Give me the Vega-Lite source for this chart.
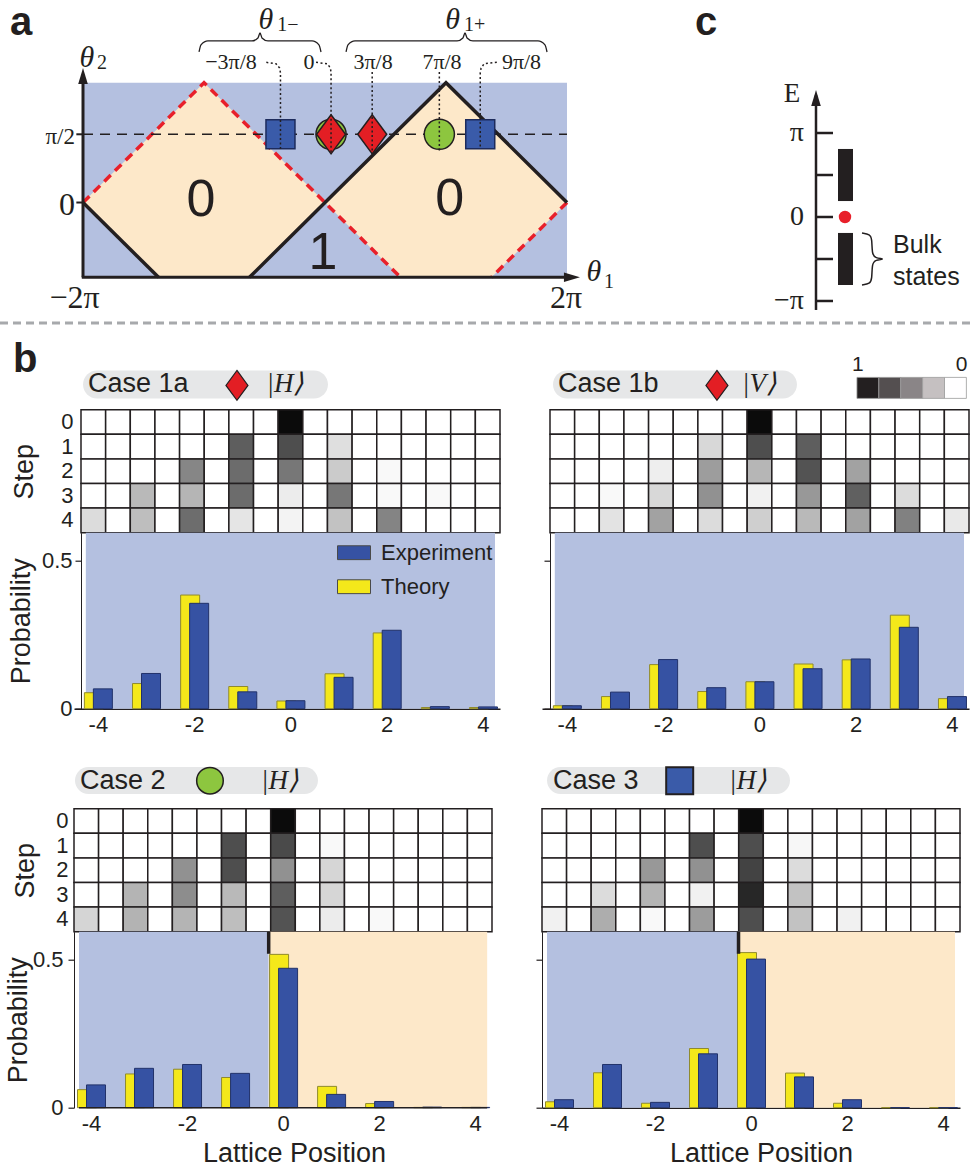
{
"$schema": "https://vega.github.io/schema/vega-lite/v6.json",
"autosize": {"type": "none"},
"padding": {"left": 74, "top": 82.7, "right": 897, "bottom": 1091.3},
"background": "#ffffff",
"config": {"view": {"stroke": null}, "font": "Liberation Sans", "text": {"color": "#231f20"}},
"datasets": {
"h1a": [
{"s":0,"x":-4,"v":0},{"s":0,"x":-3.5,"v":0},{"s":0,"x":-3,"v":0},{"s":0,"x":-2.5,"v":0},{"s":0,"x":-2,"v":0},{"s":0,"x":-1.5,"v":0},{"s":0,"x":-1,"v":0},{"s":0,"x":-0.5,"v":0},{"s":0,"x":0,"v":0.97},{"s":0,"x":0.5,"v":0},{"s":0,"x":1,"v":0},{"s":0,"x":1.5,"v":0},{"s":0,"x":2,"v":0},{"s":0,"x":2.5,"v":0},{"s":0,"x":3,"v":0},{"s":0,"x":3.5,"v":0},{"s":0,"x":4,"v":0},
{"s":1,"x":-4,"v":0},{"s":1,"x":-3.5,"v":0},{"s":1,"x":-3,"v":0},{"s":1,"x":-2.5,"v":0},{"s":1,"x":-2,"v":0},{"s":1,"x":-1.5,"v":0},{"s":1,"x":-1,"v":0.6},{"s":1,"x":-0.5,"v":0},{"s":1,"x":0,"v":0.667},{"s":1,"x":0.5,"v":0},{"s":1,"x":1,"v":0.11},{"s":1,"x":1.5,"v":0},{"s":1,"x":2,"v":0},{"s":1,"x":2.5,"v":0},{"s":1,"x":3,"v":0},{"s":1,"x":3.5,"v":0},{"s":1,"x":4,"v":0},
{"s":2,"x":-4,"v":0},{"s":2,"x":-3.5,"v":0},{"s":2,"x":-3,"v":0},{"s":2,"x":-2.5,"v":0},{"s":2,"x":-2,"v":0.44},{"s":2,"x":-1.5,"v":0},{"s":2,"x":-1,"v":0.545},{"s":2,"x":-0.5,"v":0},{"s":2,"x":0,"v":0.5},{"s":2,"x":0.5,"v":0},{"s":2,"x":1,"v":0.184},{"s":2,"x":1.5,"v":0},{"s":2,"x":2,"v":0.02},{"s":2,"x":2.5,"v":0},{"s":2,"x":3,"v":0},{"s":2,"x":3.5,"v":0},{"s":2,"x":4,"v":0},
{"s":3,"x":-4,"v":0},{"s":3,"x":-3.5,"v":0},{"s":3,"x":-3,"v":0.247},{"s":3,"x":-2.5,"v":0},{"s":3,"x":-2,"v":0.263},{"s":3,"x":-1.5,"v":0},{"s":3,"x":-1,"v":0.545},{"s":3,"x":-0.5,"v":0},{"s":3,"x":0,"v":0.067},{"s":3,"x":0.5,"v":0},{"s":3,"x":1,"v":0.5},{"s":3,"x":1.5,"v":0},{"s":3,"x":2,"v":0.02},{"s":3,"x":2.5,"v":0},{"s":3,"x":3,"v":0.02},{"s":3,"x":3.5,"v":0},{"s":3,"x":4,"v":0},
{"s":4,"x":-4,"v":0.122},{"s":4,"x":-3.5,"v":0},{"s":4,"x":-3,"v":0.231},{"s":4,"x":-2.5,"v":0},{"s":4,"x":-2,"v":0.54},{"s":4,"x":-1.5,"v":0},{"s":4,"x":-1,"v":0.09},{"s":4,"x":-0.5,"v":0},{"s":4,"x":0,"v":0.043},{"s":4,"x":0.5,"v":0},{"s":4,"x":1,"v":0.216},{"s":4,"x":1.5,"v":0},{"s":4,"x":2,"v":0.45},{"s":4,"x":2.5,"v":0},{"s":4,"x":3,"v":0},{"s":4,"x":3.5,"v":0},{"s":4,"x":4,"v":0}
],
"h1b": [
{"s":0,"x":-4,"v":0},{"s":0,"x":-3.5,"v":0},{"s":0,"x":-3,"v":0},{"s":0,"x":-2.5,"v":0},{"s":0,"x":-2,"v":0},{"s":0,"x":-1.5,"v":0},{"s":0,"x":-1,"v":0},{"s":0,"x":-0.5,"v":0},{"s":0,"x":0,"v":0.97},{"s":0,"x":0.5,"v":0},{"s":0,"x":1,"v":0},{"s":0,"x":1.5,"v":0},{"s":0,"x":2,"v":0},{"s":0,"x":2.5,"v":0},{"s":0,"x":3,"v":0},{"s":0,"x":3.5,"v":0},{"s":0,"x":4,"v":0},
{"s":1,"x":-4,"v":0},{"s":1,"x":-3.5,"v":0},{"s":1,"x":-3,"v":0},{"s":1,"x":-2.5,"v":0},{"s":1,"x":-2,"v":0},{"s":1,"x":-1.5,"v":0},{"s":1,"x":-1,"v":0.137},{"s":1,"x":-0.5,"v":0},{"s":1,"x":0,"v":0.667},{"s":1,"x":0.5,"v":0},{"s":1,"x":1,"v":0.6},{"s":1,"x":1.5,"v":0},{"s":1,"x":2,"v":0},{"s":1,"x":2.5,"v":0},{"s":1,"x":3,"v":0},{"s":1,"x":3.5,"v":0},{"s":1,"x":4,"v":0},
{"s":2,"x":-4,"v":0},{"s":2,"x":-3.5,"v":0},{"s":2,"x":-3,"v":0},{"s":2,"x":-2.5,"v":0},{"s":2,"x":-2,"v":0.059},{"s":2,"x":-1.5,"v":0},{"s":2,"x":-1,"v":0.353},{"s":2,"x":-0.5,"v":0},{"s":2,"x":0,"v":0.259},{"s":2,"x":0.5,"v":0},{"s":2,"x":1,"v":0.647},{"s":2,"x":1.5,"v":0},{"s":2,"x":2,"v":0.333},{"s":2,"x":2.5,"v":0},{"s":2,"x":3,"v":0},{"s":2,"x":3.5,"v":0},{"s":2,"x":4,"v":0},
{"s":3,"x":-4,"v":0},{"s":3,"x":-3.5,"v":0},{"s":3,"x":-3,"v":0.02},{"s":3,"x":-2.5,"v":0},{"s":3,"x":-2,"v":0.137},{"s":3,"x":-1.5,"v":0},{"s":3,"x":-1,"v":0.4},{"s":3,"x":-0.5,"v":0},{"s":3,"x":0,"v":0.05},{"s":3,"x":0.5,"v":0},{"s":3,"x":1,"v":0.373},{"s":3,"x":1.5,"v":0},{"s":3,"x":2,"v":0.592},{"s":3,"x":2.5,"v":0},{"s":3,"x":3,"v":0.122},{"s":3,"x":3.5,"v":0},{"s":3,"x":4,"v":0},
{"s":4,"x":-4,"v":0},{"s":4,"x":-3.5,"v":0},{"s":4,"x":-3,"v":0.098},{"s":4,"x":-2.5,"v":0},{"s":4,"x":-2,"v":0.333},{"s":4,"x":-1.5,"v":0},{"s":4,"x":-1,"v":0.122},{"s":4,"x":-0.5,"v":0},{"s":4,"x":0,"v":0.169},{"s":4,"x":0.5,"v":0},{"s":4,"x":1,"v":0.247},{"s":4,"x":1.5,"v":0},{"s":4,"x":2,"v":0.333},{"s":4,"x":2.5,"v":0},{"s":4,"x":3,"v":0.459},{"s":4,"x":3.5,"v":0},{"s":4,"x":4,"v":0.075}
],
"h2": [
{"s":0,"x":-4,"v":0},{"s":0,"x":-3.5,"v":0},{"s":0,"x":-3,"v":0},{"s":0,"x":-2.5,"v":0},{"s":0,"x":-2,"v":0},{"s":0,"x":-1.5,"v":0},{"s":0,"x":-1,"v":0},{"s":0,"x":-0.5,"v":0},{"s":0,"x":0,"v":0.97},{"s":0,"x":0.5,"v":0},{"s":0,"x":1,"v":0},{"s":0,"x":1.5,"v":0},{"s":0,"x":2,"v":0},{"s":0,"x":2.5,"v":0},{"s":0,"x":3,"v":0},{"s":0,"x":3.5,"v":0},{"s":0,"x":4,"v":0},
{"s":1,"x":-4,"v":0},{"s":1,"x":-3.5,"v":0},{"s":1,"x":-3,"v":0},{"s":1,"x":-2.5,"v":0},{"s":1,"x":-2,"v":0},{"s":1,"x":-1.5,"v":0},{"s":1,"x":-1,"v":0.667},{"s":1,"x":-0.5,"v":0},{"s":1,"x":0,"v":0.686},{"s":1,"x":0.5,"v":0},{"s":1,"x":1,"v":0.02},{"s":1,"x":1.5,"v":0},{"s":1,"x":2,"v":0},{"s":1,"x":2.5,"v":0},{"s":1,"x":3,"v":0},{"s":1,"x":3.5,"v":0},{"s":1,"x":4,"v":0},
{"s":2,"x":-4,"v":0},{"s":2,"x":-3.5,"v":0},{"s":2,"x":-3,"v":0},{"s":2,"x":-2.5,"v":0},{"s":2,"x":-2,"v":0.4},{"s":2,"x":-1.5,"v":0},{"s":2,"x":-1,"v":0.667},{"s":2,"x":-0.5,"v":0},{"s":2,"x":0,"v":0.4},{"s":2,"x":0.5,"v":0},{"s":2,"x":1,"v":0.145},{"s":2,"x":1.5,"v":0},{"s":2,"x":2,"v":0},{"s":2,"x":2.5,"v":0},{"s":2,"x":3,"v":0},{"s":2,"x":3.5,"v":0},{"s":2,"x":4,"v":0},
{"s":3,"x":-4,"v":0},{"s":3,"x":-3.5,"v":0},{"s":3,"x":-3,"v":0.267},{"s":3,"x":-2.5,"v":0},{"s":3,"x":-2,"v":0.412},{"s":3,"x":-1.5,"v":0},{"s":3,"x":-1,"v":0.247},{"s":3,"x":-0.5,"v":0},{"s":3,"x":0,"v":0.6},{"s":3,"x":0.5,"v":0},{"s":3,"x":1,"v":0.145},{"s":3,"x":1.5,"v":0},{"s":3,"x":2,"v":0},{"s":3,"x":2.5,"v":0},{"s":3,"x":3,"v":0},{"s":3,"x":3.5,"v":0},{"s":3,"x":4,"v":0},
{"s":4,"x":-4,"v":0.149},{"s":4,"x":-3.5,"v":0},{"s":4,"x":-3,"v":0.271},{"s":4,"x":-2.5,"v":0},{"s":4,"x":-2,"v":0.267},{"s":4,"x":-1.5,"v":0},{"s":4,"x":-1,"v":0.231},{"s":4,"x":-0.5,"v":0},{"s":4,"x":0,"v":0.647},{"s":4,"x":0.5,"v":0},{"s":4,"x":1,"v":0.067},{"s":4,"x":1.5,"v":0},{"s":4,"x":2,"v":0.02},{"s":4,"x":2.5,"v":0},{"s":4,"x":3,"v":0},{"s":4,"x":3.5,"v":0},{"s":4,"x":4,"v":0}
],
"h3": [
{"s":0,"x":-4,"v":0},{"s":0,"x":-3.5,"v":0},{"s":0,"x":-3,"v":0},{"s":0,"x":-2.5,"v":0},{"s":0,"x":-2,"v":0},{"s":0,"x":-1.5,"v":0},{"s":0,"x":-1,"v":0},{"s":0,"x":-0.5,"v":0},{"s":0,"x":0,"v":0.97},{"s":0,"x":0.5,"v":0},{"s":0,"x":1,"v":0},{"s":0,"x":1.5,"v":0},{"s":0,"x":2,"v":0},{"s":0,"x":2.5,"v":0},{"s":0,"x":3,"v":0},{"s":0,"x":3.5,"v":0},{"s":0,"x":4,"v":0},
{"s":1,"x":-4,"v":0},{"s":1,"x":-3.5,"v":0},{"s":1,"x":-3,"v":0},{"s":1,"x":-2.5,"v":0},{"s":1,"x":-2,"v":0},{"s":1,"x":-1.5,"v":0},{"s":1,"x":-1,"v":0.667},{"s":1,"x":-0.5,"v":0},{"s":1,"x":0,"v":0.667},{"s":1,"x":0.5,"v":0},{"s":1,"x":1,"v":0.027},{"s":1,"x":1.5,"v":0},{"s":1,"x":2,"v":0},{"s":1,"x":2.5,"v":0},{"s":1,"x":3,"v":0},{"s":1,"x":3.5,"v":0},{"s":1,"x":4,"v":0},
{"s":2,"x":-4,"v":0},{"s":2,"x":-3.5,"v":0},{"s":2,"x":-3,"v":0},{"s":2,"x":-2.5,"v":0},{"s":2,"x":-2,"v":0.373},{"s":2,"x":-1.5,"v":0},{"s":2,"x":-1,"v":0.4},{"s":2,"x":-0.5,"v":0},{"s":2,"x":0,"v":0.718},{"s":2,"x":0.5,"v":0},{"s":2,"x":1,"v":0.122},{"s":2,"x":1.5,"v":0},{"s":2,"x":2,"v":0},{"s":2,"x":2.5,"v":0},{"s":2,"x":3,"v":0},{"s":2,"x":3.5,"v":0},{"s":2,"x":4,"v":0},
{"s":3,"x":-4,"v":0},{"s":3,"x":-3.5,"v":0},{"s":3,"x":-3,"v":0.122},{"s":3,"x":-2.5,"v":0},{"s":3,"x":-2,"v":0.267},{"s":3,"x":-1.5,"v":0},{"s":3,"x":-1,"v":0.05},{"s":3,"x":-0.5,"v":0},{"s":3,"x":0,"v":0.843},{"s":3,"x":0.5,"v":0},{"s":3,"x":1,"v":0.216},{"s":3,"x":1.5,"v":0},{"s":3,"x":2,"v":0},{"s":3,"x":2.5,"v":0},{"s":3,"x":3,"v":0},{"s":3,"x":3.5,"v":0},{"s":3,"x":4,"v":0},
{"s":4,"x":-4,"v":0.05},{"s":4,"x":-3.5,"v":0},{"s":4,"x":-3,"v":0.294},{"s":4,"x":-2.5,"v":0},{"s":4,"x":-2,"v":0.02},{"s":4,"x":-1.5,"v":0},{"s":4,"x":-1,"v":0.357},{"s":4,"x":-0.5,"v":0},{"s":4,"x":0,"v":0.667},{"s":4,"x":0.5,"v":0},{"s":4,"x":1,"v":0.216},{"s":4,"x":1.5,"v":0},{"s":4,"x":2,"v":0.05},{"s":4,"x":2.5,"v":0},{"s":4,"x":3,"v":0},{"s":4,"x":3.5,"v":0},{"s":4,"x":4,"v":0}
],
"b1a": [
{"x":-4,"series":"Theory","p":0.054},{"x":-4,"series":"Experiment","p":0.067},
{"x":-3,"series":"Theory","p":0.085},{"x":-3,"series":"Experiment","p":0.119},
{"x":-2,"series":"Theory","p":0.384},{"x":-2,"series":"Experiment","p":0.356},
{"x":-1,"series":"Theory","p":0.075},{"x":-1,"series":"Experiment","p":0.057},
{"x":0,"series":"Theory","p":0.026},{"x":0,"series":"Experiment","p":0.027},
{"x":1,"series":"Theory","p":0.118},{"x":1,"series":"Experiment","p":0.106},
{"x":2,"series":"Theory","p":0.256},{"x":2,"series":"Experiment","p":0.265},
{"x":3,"series":"Theory","p":0.004},{"x":3,"series":"Experiment","p":0.007},
{"x":4,"series":"Theory","p":0.004},{"x":4,"series":"Experiment","p":0.006}
],
"b1b": [
{"x":-4,"series":"Theory","p":0.010},{"x":-4,"series":"Experiment","p":0.010},
{"x":-3,"series":"Theory","p":0.041},{"x":-3,"series":"Experiment","p":0.056},
{"x":-2,"series":"Theory","p":0.149},{"x":-2,"series":"Experiment","p":0.166},
{"x":-1,"series":"Theory","p":0.058},{"x":-1,"series":"Experiment","p":0.071},
{"x":0,"series":"Theory","p":0.091},{"x":0,"series":"Experiment","p":0.091},
{"x":1,"series":"Theory","p":0.151},{"x":1,"series":"Experiment","p":0.135},
{"x":2,"series":"Theory","p":0.165},{"x":2,"series":"Experiment","p":0.168},
{"x":3,"series":"Theory","p":0.316},{"x":3,"series":"Experiment","p":0.275},
{"x":4,"series":"Theory","p":0.034},{"x":4,"series":"Experiment","p":0.041}
],
"b2": [
{"x":-4,"series":"Theory","p":0.061},{"x":-4,"series":"Experiment","p":0.077},
{"x":-3,"series":"Theory","p":0.114},{"x":-3,"series":"Experiment","p":0.133},
{"x":-2,"series":"Theory","p":0.130},{"x":-2,"series":"Experiment","p":0.146},
{"x":-1,"series":"Theory","p":0.102},{"x":-1,"series":"Experiment","p":0.116},
{"x":0,"series":"Theory","p":0.518},{"x":0,"series":"Experiment","p":0.471},
{"x":1,"series":"Theory","p":0.072},{"x":1,"series":"Experiment","p":0.045},
{"x":2,"series":"Theory","p":0.014},{"x":2,"series":"Experiment","p":0.021},
{"x":3,"series":"Theory","p":0.001},{"x":3,"series":"Experiment","p":0.002},
{"x":4,"series":"Theory","p":0.001},{"x":4,"series":"Experiment","p":0.001}
],
"b3": [
{"x":-4,"series":"Theory","p":0.020},{"x":-4,"series":"Experiment","p":0.027},
{"x":-3,"series":"Theory","p":0.118},{"x":-3,"series":"Experiment","p":0.146},
{"x":-2,"series":"Theory","p":0.015},{"x":-2,"series":"Experiment","p":0.018},
{"x":-1,"series":"Theory","p":0.200},{"x":-1,"series":"Experiment","p":0.182},
{"x":0,"series":"Theory","p":0.524},{"x":0,"series":"Experiment","p":0.502},
{"x":1,"series":"Theory","p":0.117},{"x":1,"series":"Experiment","p":0.104},
{"x":2,"series":"Theory","p":0.015},{"x":2,"series":"Experiment","p":0.027},
{"x":3,"series":"Theory","p":0},{"x":3,"series":"Experiment","p":0},
{"x":4,"series":"Theory","p":0},{"x":4,"series":"Experiment","p":0}
]
},
"columns": 2,
"align": "each",
"bounds": "flush",
"spacing": {"row": 0, "column": 42},
"concat": [
{
"width": 426, "height": 194.6,
"encoding": {
"x": {"field": "x", "type": "quantitative", "scale": {"domain": [-2.0744, 1.4463], "nice": false, "zero": false}, "axis": null},
"y": {"field": "y", "type": "quantitative", "scale": {"domain": [-0.548, 0.878], "nice": false, "zero": false}, "axis": null}
},
"layer": [
{"data": {"values": [{"x": -2, "x2": 2, "y": -0.548, "y2": 0.878}]}, "mark": {"type": "rect", "fill": "#b4c0e0"}, "encoding": {"x2": {"field": "x2"}, "y2": {"field": "y2"}}},
{"data": {"values": [
{"d":"L","x":-2,"y":0,"y2":0},{"d":"L","x":-1.376,"y":0.548,"y2":-0.548},{"d":"L","x":-1,"y":0.878,"y2":-0.548},{"d":"L","x":-0.624,"y":0.548,"y2":-0.548},{"d":"L","x":0,"y":0,"y2":0},
{"d":"R","x":0,"y":0,"y2":0},{"d":"R","x":0.624,"y":0.548,"y2":-0.548},{"d":"R","x":1,"y":0.878,"y2":-0.548},{"d":"R","x":1.376,"y":0.548,"y2":-0.548},{"d":"R","x":2,"y":0,"y2":0}]},
 "mark": {"type": "area", "fill": "#fde8c9", "opacity": 1},
 "encoding": {"y": {"field": "y", "type": "quantitative", "stack": null, "scale": {"domain": [-0.548, 0.878], "nice": false, "zero": false}, "axis": null}, "y2": {"field": "y2"}, "detail": {"field": "d", "type": "nominal"}}},
{"data": {"values": [{"g":"a","o":0,"x":-2,"y":0},{"g":"a","o":1,"x":-1,"y":0.878},{"g":"a","o":2,"x":0,"y":0},{"g":"a","o":3,"x":0.624,"y":-0.548},{"g":"b","o":0,"x":2,"y":0},{"g":"b","o":1,"x":1.376,"y":-0.548}]},
 "mark": {"type": "line", "color": "#e8202a", "strokeWidth": 3.5, "strokeDash": [9, 6]},
 "encoding": {"detail": {"field": "g", "type": "nominal"}, "order": {"field": "o", "type": "quantitative"}}},
{"data": {"values": [{"g":"a","o":0,"x":-2,"y":0},{"g":"a","o":1,"x":-1.376,"y":-0.548},{"g":"b","o":0,"x":-0.624,"y":-0.548},{"g":"b","o":1,"x":1,"y":0.878},{"g":"b","o":2,"x":2,"y":0}]},
 "mark": {"type": "line", "color": "#231f20", "strokeWidth": 3.5, "strokeJoin": "miter"},
 "encoding": {"detail": {"field": "g", "type": "nominal"}, "order": {"field": "o", "type": "quantitative"}}},
{"data": {"values": [{"x": -2, "x2": 2, "y": 0.5}]}, "mark": {"type": "rule", "color": "#231f20", "strokeWidth": 1.5, "strokeDash": [10, 7]}, "encoding": {"x2": {"field": "x2"}}},
{"data": {"values": [{"x": 0.05, "y": 0.5}, {"x": 0.945, "y": 0.5}]}, "mark": {"type": "point", "shape": "circle", "size": 908, "filled": true, "fill": "#8dc63f", "stroke": "#231f20", "strokeWidth": 1.5, "opacity": 1}},
{"data": {"values": [{"x": -0.368, "y": 0.5}, {"x": 1.283, "y": 0.5}]}, "mark": {"type": "point", "shape": "square", "size": 841, "filled": true, "fill": "#3a5ba9", "stroke": "#1d2b5c", "strokeWidth": 1.5, "opacity": 1}},
{"data": {"values": [{"x": 0.05, "y": 0.5}, {"x": 0.39, "y": 0.5}]}, "mark": {"type": "point", "shape": "M0,-1.35L1,0L0,1.35L-1,0Z", "size": 841, "filled": true, "fill": "#e31e24", "stroke": "#231f20", "strokeWidth": 1.5, "opacity": 1}},
{"data": {"values": [
{"g":1,"o":0,"x":-0.485,"y":1.027},{"g":1,"o":1,"x":-0.405,"y":1.017},{"g":1,"o":2,"x":-0.375,"y":0.985},{"g":1,"o":3,"x":-0.368,"y":0.95},{"g":1,"o":4,"x":-0.368,"y":0.394},
{"g":2,"o":0,"x":-0.074,"y":1.027},{"g":2,"o":1,"x":0.02,"y":1.017},{"g":2,"o":2,"x":0.045,"y":0.985},{"g":2,"o":3,"x":0.05,"y":0.95},{"g":2,"o":4,"x":0.05,"y":0.357},
{"g":3,"o":0,"x":0.39,"y":0.957},{"g":3,"o":1,"x":0.39,"y":0.357},
{"g":4,"o":0,"x":0.945,"y":0.957},{"g":4,"o":1,"x":0.945,"y":0.375},
{"g":5,"o":0,"x":1.42,"y":1.027},{"g":5,"o":1,"x":1.315,"y":1.017},{"g":5,"o":2,"x":1.29,"y":0.985},{"g":5,"o":3,"x":1.283,"y":0.95},{"g":5,"o":4,"x":1.283,"y":0.394}]},
 "mark": {"type": "line", "color": "#231f20", "strokeWidth": 1.5, "strokeDash": [2, 2.5]},
 "encoding": {"detail": {"field": "g", "type": "nominal"}, "order": {"field": "o", "type": "quantitative"}}},
{"data": {"values": [
{"g":"m","o":0,"x":-1.041,"y":1.103},{"g":"m","o":1,"x":-1.025,"y":1.155},{"g":"m","o":2,"x":-0.967,"y":1.184},{"g":"m","o":3,"x":-0.603,"y":1.184},{"g":"m","o":4,"x":-0.554,"y":1.206},{"g":"m","o":5,"x":-0.537,"y":1.243},{"g":"m","o":6,"x":-0.521,"y":1.206},{"g":"m","o":7,"x":-0.471,"y":1.184},{"g":"m","o":8,"x":-0.107,"y":1.184},{"g":"m","o":9,"x":-0.05,"y":1.155},{"g":"m","o":10,"x":-0.033,"y":1.103},
{"g":"p","o":0,"x":0.174,"y":1.103},{"g":"p","o":1,"x":0.19,"y":1.155},{"g":"p","o":2,"x":0.248,"y":1.184},{"g":"p","o":3,"x":1.091,"y":1.184},{"g":"p","o":4,"x":1.14,"y":1.206},{"g":"p","o":5,"x":1.157,"y":1.243},{"g":"p","o":6,"x":1.174,"y":1.206},{"g":"p","o":7,"x":1.223,"y":1.184},{"g":"p","o":8,"x":1.76,"y":1.184},{"g":"p","o":9,"x":1.818,"y":1.155},{"g":"p","o":10,"x":1.835,"y":1.103}]},
 "mark": {"type": "line", "color": "#231f20", "strokeWidth": 1.3, "interpolate": "monotone"},
 "encoding": {"detail": {"field": "g", "type": "nominal"}, "order": {"field": "o", "type": "quantitative"}}},
{"data": {"values": [{"x": -2, "x2": -2, "y": -0.548, "y2": 0.93}, {"x": -2.01, "x2": 2.04, "y": -0.548, "y2": -0.548}]}, "mark": {"type": "rule", "color": "#231f20", "strokeWidth": 3}, "encoding": {"x2": {"field": "x2"}, "y2": {"field": "y2"}}},
{"data": {"values": [{"x": -2.055, "x2": -2, "y": 0}, {"x": -2.055, "x2": -2, "y": 0.5}]}, "mark": {"type": "rule", "color": "#231f20", "strokeWidth": 2}, "encoding": {"x2": {"field": "x2"}}},
{"data": {"values": [{"x": -2, "y": 0.927}]}, "mark": {"type": "point", "shape": "M0,-1L0.6,1L-0.6,1Z", "size": 256, "filled": true, "color": "#231f20", "opacity": 1, "strokeWidth": 0}},
{"data": {"values": [{"x": 2.041, "y": -0.548}]}, "mark": {"type": "point", "shape": "M1,0L-1,0.6L-1,-0.6Z", "size": 256, "filled": true, "color": "#231f20", "opacity": 1, "strokeWidth": 0}},
{"data": {"values": [{"x": -1.025, "y": 0.018, "t": "0"}, {"x": 1.031, "y": 0.026, "t": "0"}, {"x": -0.017, "y": -0.37, "t": "1"}]}, "mark": {"type": "text", "fontSize": 52, "baseline": "middle", "align": "center"}, "encoding": {"text": {"field": "t"}}},
{"data": {"values": [{"x": -0.777, "y": 1.03, "t": "−3π/8"}, {"x": -0.132, "y": 1.03, "t": "0"}, {"x": 0.397, "y": 1.03, "t": "3π/8"}, {"x": 0.967, "y": 1.03, "t": "7π/8"}, {"x": 1.624, "y": 1.03, "t": "9π/8"}]}, "mark": {"type": "text", "font": "Liberation Serif", "fontSize": 22, "baseline": "middle", "align": "center"}, "encoding": {"text": {"field": "t"}}},
{"data": {"values": [{"x": -2.07, "y": -0.7, "t": "−2π"}, {"x": 1.992, "y": -0.7, "t": "2π"}]}, "mark": {"type": "text", "font": "Liberation Serif", "fontSize": 32, "baseline": "middle", "align": "center"}, "encoding": {"text": {"field": "t"}}},
{"data": {"values": [{"x": -2.066, "y": -0.015, "t": "0"}]}, "mark": {"type": "text", "font": "Liberation Serif", "fontSize": 32, "baseline": "middle", "align": "right"}, "encoding": {"text": {"field": "t"}}},
{"data": {"values": [{"x": -2.066, "y": 0.48, "t": "π/2"}]}, "mark": {"type": "text", "font": "Liberation Serif", "fontSize": 23, "baseline": "middle", "align": "right"}, "encoding": {"text": {"field": "t"}}},
{"data": {"values": [{"x": -1.967, "y": 1.059, "t": "θ"}, {"x": 2.223, "y": -0.51, "t": "θ"}, {"x": -0.488, "y": 1.338, "t": "θ"}, {"x": 1.054, "y": 1.338, "t": "θ"}]}, "mark": {"type": "text", "font": "Liberation Serif", "fontStyle": "italic", "fontSize": 30, "baseline": "middle", "align": "center"}, "encoding": {"text": {"field": "t"}}},
{"data": {"values": [{"x": -1.843, "y": 1.026, "t": "2"}, {"x": 2.347, "y": -0.583, "t": "1"}, {"x": -0.306, "y": 1.301, "t": "1−"}, {"x": 1.236, "y": 1.301, "t": "1+"}]}, "mark": {"type": "text", "font": "Liberation Serif", "fontSize": 20, "baseline": "middle", "align": "center"}, "encoding": {"text": {"field": "t"}}},
{"data": {"values": [{"x": -2.603, "y": 1.228, "t": "a"}]}, "mark": {"type": "text", "fontSize": 40, "fontWeight": "bold", "baseline": "alphabetic", "align": "left"}, "encoding": {"text": {"field": "t"}}},
{"data": {"values": [{"x": -2.686, "x2": 5.339, "y": -0.883}]}, "mark": {"type": "rule", "color": "#a7a9ac", "strokeWidth": 3, "strokeDash": [8, 5]}, "encoding": {"x2": {"field": "x2"}}}
]
},
{
"width": 429, "height": 194.6,
"encoding": {
"x": {"field": "x", "type": "quantitative", "scale": {"domain": [0, 42.9], "nice": false, "zero": false}, "axis": null},
"y": {"field": "y", "type": "quantitative", "scale": {"domain": [-0.718, 1.599], "nice": false, "zero": false}, "axis": null}
},
"layer": [
{"data": {"values": [{"x": 29.6, "x2": 31.1, "y": 0.19, "y2": 0.81}, {"x": 29.6, "x2": 31.1, "y": -0.81, "y2": -0.19}]}, "mark": {"type": "rect", "fill": "#231f20"}, "encoding": {"x2": {"field": "x2"}, "y2": {"field": "y2"}}},
{"data": {"values": [{"x": 27.4, "x2": 27.4, "y": -1.107, "y2": 1.45}]}, "mark": {"type": "rule", "color": "#231f20", "strokeWidth": 2.5}, "encoding": {"x2": {"field": "x2"}, "y2": {"field": "y2"}}},
{"data": {"values": [{"x": 27.4, "x2": 29.1, "y": 1}, {"x": 27.4, "x2": 29.1, "y": 0.5}, {"x": 27.4, "x2": 29.1, "y": 0}, {"x": 27.4, "x2": 29.1, "y": -0.5}, {"x": 27.4, "x2": 29.1, "y": -1}]}, "mark": {"type": "rule", "color": "#231f20", "strokeWidth": 2.5}, "encoding": {"x2": {"field": "x2"}}},
{"data": {"values": [{"x": 27.4, "y": 1.417}]}, "mark": {"type": "point", "shape": "M0,-1L0.6,1L-0.6,1Z", "size": 256, "filled": true, "color": "#231f20", "opacity": 1, "strokeWidth": 0}},
{"data": {"values": [{"x": 30.3, "y": 0}]}, "mark": {"type": "point", "shape": "circle", "size": 154, "filled": true, "color": "#e8202a", "opacity": 1}},
{"data": {"values": [{"o":0,"x":32.0,"y":-0.19},{"o":1,"x":32.8,"y":-0.205},{"o":2,"x":33.0,"y":-0.26},{"o":3,"x":33.0,"y":-0.44},{"o":4,"x":33.3,"y":-0.49},{"o":5,"x":34.4,"y":-0.5},{"o":6,"x":33.3,"y":-0.51},{"o":7,"x":33.0,"y":-0.56},{"o":8,"x":33.0,"y":-0.74},{"o":9,"x":32.8,"y":-0.795},{"o":10,"x":32.0,"y":-0.81}]},
 "mark": {"type": "line", "color": "#231f20", "strokeWidth": 1.5, "interpolate": "basis"},
 "encoding": {"order": {"field": "o", "type": "quantitative"}}},
{"data": {"values": [{"x": 26.2, "y": 1, "t": "π"}, {"x": 26.2, "y": 0, "t": "0"}, {"x": 26.2, "y": -1, "t": "−π"}]}, "mark": {"type": "text", "font": "Liberation Serif", "fontSize": 28, "baseline": "middle", "align": "right"}, "encoding": {"text": {"field": "t"}}},
{"data": {"values": [{"x": 25.0, "y": 1.47, "t": "E"}]}, "mark": {"type": "text", "font": "Liberation Serif", "fontSize": 27, "baseline": "middle", "align": "center"}, "encoding": {"text": {"field": "t"}}},
{"data": {"values": [{"x": 35.1, "y": -0.333, "t": "Bulk"}, {"x": 35.1, "y": -0.714, "t": "states"}]}, "mark": {"type": "text", "fontSize": 25, "baseline": "middle", "align": "left"}, "encoding": {"text": {"field": "t"}}},
{"data": {"values": [{"x": 15.3, "y": 2.167, "t": "c"}]}, "mark": {"type": "text", "fontSize": 40, "fontWeight": "bold", "baseline": "alphabetic", "align": "left"}, "encoding": {"text": {"field": "t"}}}
]
},
{
"width": 426, "height": 131.4,
"encoding": {
"x": {"field": "x", "type": "quantitative", "scale": {"domain": [-4.392, 4.25], "nice": false, "zero": false}, "axis": null},
"y": {"field": "y", "type": "quantitative", "scale": {"domain": [0, 13.14], "nice": false, "zero": false}, "axis": null}
},
"layer": [
{"data": {"values": [{"x": -4.209, "x2": 0.76, "y": 1.07, "y2": 3.87}]}, "mark": {"type": "rect", "fill": "#e6e7e8", "cornerRadius": 14}, "encoding": {"x2": {"field": "x2"}, "y2": {"field": "y2"}}},
{"data": {"values": [{"x": -4.108, "y": 2.47, "t": "Case 1a"}]}, "mark": {"type": "text", "fontSize": 27, "baseline": "middle", "align": "left"}, "encoding": {"text": {"field": "t"}}},
{"data": {"values": [{"x": -1.086, "y": 2.37}]}, "mark": {"type": "point", "shape": "M0,-1.36L1,0L0,1.36L-1,0Z", "size": 484, "filled": true, "fill": "#e31e24", "stroke": "#231f20", "strokeWidth": 1.2, "opacity": 1}},
{"data": {"values": [{"x": -0.102, "y": 2.47, "t": "|H⟩"}]}, "mark": {"type": "text", "font": "Liberation Serif", "fontStyle": "italic", "fontSize": 27, "baseline": "middle", "align": "center"}, "encoding": {"text": {"field": "t"}}},
{"data": {"values": [{"x": -5.629, "y": 3.67, "t": "b"}]}, "mark": {"type": "text", "fontSize": 40, "fontWeight": "bold", "baseline": "alphabetic", "align": "left"}, "encoding": {"text": {"field": "t"}}}
]
},
{
"width": 427, "height": 131.4,
"encoding": {
"x": {"field": "x", "type": "quantitative", "scale": {"domain": [-4.412, 4.25], "nice": false, "zero": false}, "axis": null},
"y": {"field": "y", "type": "quantitative", "scale": {"domain": [0, 13.14], "nice": false, "zero": false}, "axis": null}
},
"layer": [
{"data": {"values": [{"x": -4.189, "x2": 0.76, "y": 1.07, "y2": 3.87}]}, "mark": {"type": "rect", "fill": "#e6e7e8", "cornerRadius": 14}, "encoding": {"x2": {"field": "x2"}, "y2": {"field": "y2"}}},
{"data": {"values": [{"x": -4.087, "y": 2.47, "t": "Case 1b"}]}, "mark": {"type": "text", "fontSize": 27, "baseline": "middle", "align": "left"}, "encoding": {"text": {"field": "t"}}},
{"data": {"values": [{"x": -0.863, "y": 2.37}]}, "mark": {"type": "point", "shape": "M0,-1.36L1,0L0,1.36L-1,0Z", "size": 484, "filled": true, "fill": "#e31e24", "stroke": "#231f20", "strokeWidth": 1.2, "opacity": 1}},
{"data": {"values": [{"x": 0.0, "y": 2.47, "t": "|V⟩"}]}, "mark": {"type": "text", "font": "Liberation Serif", "fontStyle": "italic", "fontSize": 27, "baseline": "middle", "align": "center"}, "encoding": {"text": {"field": "t"}}},
{"data": {"values": [{"x": 1.977, "x2": 2.421, "y": 1.07, "y2": 3.17, "v": 1}, {"x": 2.421, "x2": 2.865, "y": 1.07, "y2": 3.17, "v": 0.75}, {"x": 2.865, "x2": 3.309, "y": 1.07, "y2": 3.17, "v": 0.5}, {"x": 3.309, "x2": 3.753, "y": 1.07, "y2": 3.17, "v": 0.25}, {"x": 3.753, "x2": 4.197, "y": 1.07, "y2": 3.17, "v": 0}]},
 "mark": {"type": "rect", "stroke": "#9a9a9a", "strokeWidth": 0.8},
 "encoding": {"x2": {"field": "x2"}, "y2": {"field": "y2"}, "fill": {"field": "v", "type": "quantitative", "scale": {"domain": [0, 1], "range": ["#ffffff", "#231f20"]}, "legend": null}}},
{"data": {"values": [{"x": 1.997, "y": 4.37, "t": "1"}, {"x": 4.101, "y": 4.37, "t": "0"}]}, "mark": {"type": "text", "fontSize": 21, "baseline": "middle", "align": "center"}, "encoding": {"text": {"field": "t"}}}
]
},
{
"width": 426, "height": 123,
"data": {"name": "h1a"},
"mark": {"type": "rect", "stroke": "#231f20", "strokeWidth": 1.5},
"encoding": {
"x": {"field": "x", "type": "ordinal", "scale": {"domain": [-4,-3.5,-3,-2.5,-2,-1.5,-1,-0.5,0,0.5,1,1.5,2,2.5,3,3.5,4], "paddingInner": 0, "paddingOuter": 0.142, "align": 1}, "axis": null},
"y": {"field": "s", "type": "ordinal", "scale": {"domain": [0,1,2,3,4], "paddingInner": 0, "paddingOuter": 0}, "axis": {"title": "Step", "titleFontSize": 27, "titleFontWeight": "normal", "titleColor": "#231f20", "titlePadding": 22, "labelFontSize": 22, "labelColor": "#231f20", "labelPadding": 1, "ticks": false, "domain": false}},
"fill": {"field": "v", "type": "quantitative", "scale": {"domain": [0, 1], "range": ["#ffffff", "#000000"]}, "legend": null}
}
},
{
"width": 427, "height": 123,
"data": {"name": "h1b"},
"mark": {"type": "rect", "stroke": "#231f20", "strokeWidth": 1.5},
"encoding": {
"x": {"field": "x", "type": "ordinal", "scale": {"domain": [-4,-3.5,-3,-2.5,-2,-1.5,-1,-0.5,0,0.5,1,1.5,2,2.5,3,3.5,4], "paddingInner": 0, "paddingOuter": 0.1623, "align": 1}, "axis": null},
"y": {"field": "s", "type": "ordinal", "scale": {"domain": [0,1,2,3,4], "paddingInner": 0, "paddingOuter": 0}, "axis": null},
"fill": {"field": "v", "type": "quantitative", "scale": {"domain": [0, 1], "range": ["#ffffff", "#000000"]}, "legend": null}
}
},
{
"width": 426, "height": 176,
"encoding": {
"x": {"field": "x", "type": "quantitative", "scale": {"domain": [-4.392, 4.25], "nice": false, "zero": false}, "axis": {"values": [-4,-2,0,2,4], "labelExpr": "'' + datum.value", "ticks": false, "labelFontSize": 22, "labelColor": "#231f20", "labelPadding": 6, "domainColor": "#231f20", "domainWidth": 1.5, "grid": false, "title": null}}
},
"layer": [
{"data": {"values": [{"x": -4.25, "x2": 4.25}]}, "mark": {"type": "rect", "fill": "#b4c0e0"}, "encoding": {"x2": {"field": "x2"}}},
{"data": {"name": "b1a"}, "transform": [{"filter": "datum.series === 'Theory'"}], "mark": {"type": "bar", "orient": "vertical", "width": 19, "xOffset": -4, "stroke": "#8f8a2e", "strokeWidth": 1},
 "encoding": {
 "y": {"field": "p", "type": "quantitative", "stack": null, "scale": {"domain": [0, 0.5946], "nice": false, "zero": false}, "axis": {"values": [0, 0.5], "format": "~g", "title": "Probability", "titleFontSize": 27, "titleFontWeight": "normal", "titleColor": "#231f20", "titlePadding": 6, "labelFontSize": 22, "labelColor": "#231f20", "labelPadding": 3, "tickSize": 6, "tickColor": "#231f20", "tickWidth": 1.2, "domainColor": "#231f20", "domainWidth": 1, "grid": false, "offset": -7}},
 "color": {"field": "series", "type": "nominal", "scale": {"domain": ["Experiment", "Theory"], "range": ["#3652a3", "#f4e81a"]}, "legend": {"title": null, "orient": "none", "legendX": 263, "legendY": 453, "symbolType": "M-1,-0.42H1V0.42H-1Z", "symbolSize": 1089, "symbolStrokeColor": "#4a4a4a", "symbolStrokeWidth": 1, "symbolOpacity": 1, "labelFontSize": 22, "labelColor": "#231f20", "labelOffset": 10, "rowPadding": 6, "padding": 0}}
 }},
{"data": {"name": "b1a"}, "transform": [{"filter": "datum.series === 'Experiment'"}], "mark": {"type": "bar", "orient": "vertical", "width": 19, "xOffset": 5, "stroke": "#22326a", "strokeWidth": 1},
 "encoding": {
 "y": {"field": "p", "type": "quantitative", "stack": null, "scale": {"domain": [0, 0.5946], "nice": false, "zero": false}, "axis": {"values": [0, 0.5], "format": "~g", "title": "Probability", "titleFontSize": 27, "titleFontWeight": "normal", "titleColor": "#231f20", "titlePadding": 6, "labelFontSize": 22, "labelColor": "#231f20", "labelPadding": 3, "tickSize": 6, "tickColor": "#231f20", "tickWidth": 1.2, "domainColor": "#231f20", "domainWidth": 1, "grid": false, "offset": -7}},
 "color": {"field": "series", "type": "nominal", "scale": {"domain": ["Experiment", "Theory"], "range": ["#3652a3", "#f4e81a"]}, "legend": {"title": null, "orient": "none", "legendX": 263, "legendY": 453, "symbolType": "M-1,-0.42H1V0.42H-1Z", "symbolSize": 1089, "symbolStrokeColor": "#4a4a4a", "symbolStrokeWidth": 1, "symbolOpacity": 1, "labelFontSize": 22, "labelColor": "#231f20", "labelOffset": 10, "rowPadding": 6, "padding": 0}}
 }}
]
},
{
"width": 427, "height": 176,
"encoding": {
"x": {"field": "x", "type": "quantitative", "scale": {"domain": [-4.412, 4.25], "nice": false, "zero": false}, "axis": {"values": [-4,-2,0,2,4], "labelExpr": "'' + datum.value", "ticks": false, "labelFontSize": 22, "labelColor": "#231f20", "labelPadding": 6, "domainColor": "#231f20", "domainWidth": 1.5, "grid": false, "title": null}}
},
"layer": [
{"data": {"values": [{"x": -4.25, "x2": 4.25}]}, "mark": {"type": "rect", "fill": "#b4c0e0"}, "encoding": {"x2": {"field": "x2"}}},
{"data": {"name": "b1b"}, "transform": [{"filter": "datum.series === 'Theory'"}], "mark": {"type": "bar", "orient": "vertical", "width": 19, "xOffset": -4, "stroke": "#8f8a2e", "strokeWidth": 1},
 "encoding": {
 "y": {"field": "p", "type": "quantitative", "stack": null, "scale": {"domain": [0, 0.5946], "nice": false, "zero": false}, "axis": {"values": [0, 0.5], "labels": false, "title": null, "tickSize": 6, "tickColor": "#231f20", "tickWidth": 1.2, "domainColor": "#231f20", "domainWidth": 1, "grid": false, "offset": -8}},
 "color": {"field": "series", "type": "nominal", "scale": {"domain": ["Experiment", "Theory"], "range": ["#3652a3", "#f4e81a"]}, "legend": null}
 }},
{"data": {"name": "b1b"}, "transform": [{"filter": "datum.series === 'Experiment'"}], "mark": {"type": "bar", "orient": "vertical", "width": 19, "xOffset": 5, "stroke": "#22326a", "strokeWidth": 1},
 "encoding": {
 "y": {"field": "p", "type": "quantitative", "stack": null, "scale": {"domain": [0, 0.5946], "nice": false, "zero": false}, "axis": {"values": [0, 0.5], "labels": false, "title": null, "tickSize": 6, "tickColor": "#231f20", "tickWidth": 1.2, "domainColor": "#231f20", "domainWidth": 1, "grid": false, "offset": -8}},
 "color": {"field": "series", "type": "nominal", "scale": {"domain": ["Experiment", "Theory"], "range": ["#3652a3", "#f4e81a"]}, "legend": null}
 }}
]
},
{
"width": 426, "height": 99.4,
"encoding": {
"x": {"field": "x", "type": "quantitative", "scale": {"domain": [-4.25, 4.413], "nice": false, "zero": false}, "axis": null},
"y": {"field": "y", "type": "quantitative", "scale": {"domain": [0, 9.94], "nice": false, "zero": false}, "axis": null}
},
"layer": [
{"data": {"values": [{"x": -4.23, "x2": 0.711, "y": 1.41, "y2": 4.11}]}, "mark": {"type": "rect", "fill": "#e6e7e8", "cornerRadius": 13.5}, "encoding": {"x2": {"field": "x2"}, "y2": {"field": "y2"}}},
{"data": {"values": [{"x": -4.128, "y": 2.71, "t": "Case 2"}]}, "mark": {"type": "text", "fontSize": 27, "baseline": "middle", "align": "left"}, "encoding": {"text": {"field": "t"}}},
{"data": {"values": [{"x": -1.485, "y": 2.74}]}, "mark": {"type": "point", "shape": "circle", "size": 707, "filled": true, "fill": "#8dc63f", "stroke": "#231f20", "strokeWidth": 1.5, "opacity": 1}},
{"data": {"values": [{"x": -0.061, "y": 2.71, "t": "|H⟩"}]}, "mark": {"type": "text", "font": "Liberation Serif", "fontStyle": "italic", "fontSize": 27, "baseline": "middle", "align": "center"}, "encoding": {"text": {"field": "t"}}}
]
},
{
"width": 418, "height": 99.4,
"encoding": {
"x": {"field": "x", "type": "quantitative", "scale": {"domain": [-4.25, 4.25], "nice": false, "zero": false}, "axis": null},
"y": {"field": "y", "type": "quantitative", "scale": {"domain": [0, 9.94], "nice": false, "zero": false}, "axis": null}
},
"layer": [
{"data": {"values": [{"x": -4.148, "x2": 0.793, "y": 1.41, "y2": 4.11}]}, "mark": {"type": "rect", "fill": "#e6e7e8", "cornerRadius": 13.5}, "encoding": {"x2": {"field": "x2"}, "y2": {"field": "y2"}}},
{"data": {"values": [{"x": -4.026, "y": 2.71, "t": "Case 3"}]}, "mark": {"type": "text", "fontSize": 27, "baseline": "middle", "align": "left"}, "encoding": {"text": {"field": "t"}}},
{"data": {"values": [{"x": -1.45, "y": 2.74}]}, "mark": {"type": "point", "shape": "square", "size": 729, "filled": true, "fill": "#3a5ba9", "stroke": "#231f20", "strokeWidth": 2, "opacity": 1}},
{"data": {"values": [{"x": -0.061, "y": 2.71, "t": "|H⟩"}]}, "mark": {"type": "text", "font": "Liberation Serif", "fontStyle": "italic", "fontSize": 27, "baseline": "middle", "align": "center"}, "encoding": {"text": {"field": "t"}}}
]
},
{
"width": 426, "height": 123,
"data": {"name": "h2"},
"mark": {"type": "rect", "stroke": "#231f20", "strokeWidth": 1.5},
"encoding": {
"x": {"field": "x", "type": "ordinal", "scale": {"domain": [-4,-3.5,-3,-2.5,-2,-1.5,-1,-0.5,0,0.5,1,1.5,2,2.5,3,3.5,4], "paddingInner": 0, "paddingOuter": 0.1627, "align": 0}, "axis": null},
"y": {"field": "s", "type": "ordinal", "scale": {"domain": [0,1,2,3,4], "paddingInner": 0, "paddingOuter": 0}, "axis": {"title": "Step", "titleFontSize": 27, "titleFontWeight": "normal", "titleColor": "#231f20", "titlePadding": 16, "labelFontSize": 22, "labelColor": "#231f20", "labelPadding": 6, "ticks": false, "domain": false}},
"fill": {"field": "v", "type": "quantitative", "scale": {"domain": [0, 1], "range": ["#ffffff", "#000000"]}, "legend": null}
}
},
{
"width": 418, "height": 123,
"data": {"name": "h3"},
"mark": {"type": "rect", "stroke": "#231f20", "strokeWidth": 1.5},
"encoding": {
"x": {"field": "x", "type": "ordinal", "scale": {"domain": [-4,-3.5,-3,-2.5,-2,-1.5,-1,-0.5,0,0.5,1,1.5,2,2.5,3,3.5,4], "paddingInner": 0, "paddingOuter": 0}, "axis": null},
"y": {"field": "s", "type": "ordinal", "scale": {"domain": [0,1,2,3,4], "paddingInner": 0, "paddingOuter": 0}, "axis": null},
"fill": {"field": "v", "type": "quantitative", "scale": {"domain": [0, 1], "range": ["#ffffff", "#000000"]}, "legend": null}
}
},
{
"width": 426, "height": 176,
"encoding": {
"x": {"field": "x", "type": "quantitative", "scale": {"domain": [-4.25, 4.413], "nice": false, "zero": false}, "axis": {"values": [-4,-2,0,2,4], "labelExpr": "'' + datum.value", "ticks": false, "labelFontSize": 22, "labelColor": "#231f20", "labelPadding": 6, "domain": false, "grid": false, "title": "Lattice Position", "titleFontSize": 27, "titleFontWeight": "normal", "titleColor": "#231f20", "titlePadding": 6, "titleX": 220}}
},
"layer": [
{"data": {"values": [{"x": -4.25, "x2": -0.3, "phase": "1"}, {"x": -0.3, "x2": 4.25, "phase": "0"}]}, "mark": {"type": "rect"}, "encoding": {"x2": {"field": "x2"}, "fill": {"field": "phase", "type": "nominal", "scale": {"domain": ["1", "0"], "range": ["#b4c0e0", "#fde8c9"]}, "legend": null}}},
{"data": {"name": "b2"}, "transform": [{"filter": "datum.series === 'Theory'"}], "mark": {"type": "bar", "orient": "vertical", "width": 19, "xOffset": -4, "stroke": "#8f8a2e", "strokeWidth": 1},
 "encoding": {
 "y": {"field": "p", "type": "quantitative", "stack": null, "scale": {"domain": [0, 0.5946], "nice": false, "zero": false}, "axis": {"values": [0, 0.5], "format": "~g", "title": "Probability", "titleFontSize": 27, "titleFontWeight": "normal", "titleColor": "#231f20", "titlePadding": 0, "labelFontSize": 22, "labelColor": "#231f20", "labelPadding": 5, "tickSize": 6, "tickColor": "#231f20", "tickWidth": 1.2, "domainColor": "#231f20", "domainWidth": 1, "grid": false}},
 "color": {"field": "series", "type": "nominal", "scale": {"domain": ["Experiment", "Theory"], "range": ["#3652a3", "#f4e81a"]}, "legend": null}
 }},
{"data": {"name": "b2"}, "transform": [{"filter": "datum.series === 'Experiment'"}], "mark": {"type": "bar", "orient": "vertical", "width": 19, "xOffset": 5, "stroke": "#22326a", "strokeWidth": 1},
 "encoding": {
 "y": {"field": "p", "type": "quantitative", "stack": null, "scale": {"domain": [0, 0.5946], "nice": false, "zero": false}, "axis": {"values": [0, 0.5], "format": "~g", "title": "Probability", "titleFontSize": 27, "titleFontWeight": "normal", "titleColor": "#231f20", "titlePadding": 0, "labelFontSize": 22, "labelColor": "#231f20", "labelPadding": 5, "tickSize": 6, "tickColor": "#231f20", "tickWidth": 1.2, "domainColor": "#231f20", "domainWidth": 1, "grid": false}},
 "color": {"field": "series", "type": "nominal", "scale": {"domain": ["Experiment", "Theory"], "range": ["#3652a3", "#f4e81a"]}, "legend": null}
 }},
{"data": {"values": [{"x": -0.3}]}, "mark": {"type": "rule", "color": "#231f20", "strokeWidth": 3.5},
 "encoding": {"y": {"datum": 0.52, "type": "quantitative", "scale": {"domain": [0, 0.5946], "nice": false, "zero": false}, "axis": {"values": [0, 0.5], "format": "~g", "title": "Probability", "titleFontSize": 27, "titleFontWeight": "normal", "titleColor": "#231f20", "titlePadding": 0, "labelFontSize": 22, "labelColor": "#231f20", "labelPadding": 5, "tickSize": 6, "tickColor": "#231f20", "tickWidth": 1.2, "domainColor": "#231f20", "domainWidth": 1, "grid": false}}, "y2": {"datum": 0.5946}}},
{"data": {"values": [{"x": -4.25, "x2": 4.25}]}, "mark": {"type": "rule", "color": "#231f20", "strokeWidth": 1.5},
 "encoding": {"x2": {"field": "x2"}, "y": {"datum": 0, "type": "quantitative", "scale": {"domain": [0, 0.5946], "nice": false, "zero": false}, "axis": {"values": [0, 0.5], "format": "~g", "title": "Probability", "titleFontSize": 27, "titleFontWeight": "normal", "titleColor": "#231f20", "titlePadding": 0, "labelFontSize": 22, "labelColor": "#231f20", "labelPadding": 5, "tickSize": 6, "tickColor": "#231f20", "tickWidth": 1.2, "domainColor": "#231f20", "domainWidth": 1, "grid": false}}}}
]
},
{
"width": 418, "height": 176,
"encoding": {
"x": {"field": "x", "type": "quantitative", "scale": {"domain": [-4.25, 4.25], "nice": false, "zero": false}, "axis": {"values": [-4,-2,0,2,4], "labelExpr": "'' + datum.value", "ticks": false, "labelFontSize": 22, "labelColor": "#231f20", "labelPadding": 6, "domainColor": "#231f20", "domainWidth": 1.5, "grid": false, "title": "Lattice Position", "titleFontSize": 27, "titleFontWeight": "normal", "titleColor": "#231f20", "titlePadding": 6, "titleX": 219}}
},
"layer": [
{"data": {"values": [{"x": -4.25, "x2": -0.26, "phase": "1"}, {"x": -0.26, "x2": 4.25, "phase": "0"}]}, "mark": {"type": "rect"}, "encoding": {"x2": {"field": "x2"}, "fill": {"field": "phase", "type": "nominal", "scale": {"domain": ["1", "0"], "range": ["#b4c0e0", "#fde8c9"]}, "legend": null}}},
{"data": {"name": "b3"}, "transform": [{"filter": "datum.series === 'Theory'"}], "mark": {"type": "bar", "orient": "vertical", "width": 19, "xOffset": -4, "stroke": "#8f8a2e", "strokeWidth": 1},
 "encoding": {
 "y": {"field": "p", "type": "quantitative", "stack": null, "scale": {"domain": [0, 0.5946], "nice": false, "zero": false}, "axis": {"values": [0, 0.5], "labels": false, "title": null, "tickSize": 6, "tickColor": "#231f20", "tickWidth": 1.2, "domainColor": "#231f20", "domainWidth": 1, "grid": false}},
 "color": {"field": "series", "type": "nominal", "scale": {"domain": ["Experiment", "Theory"], "range": ["#3652a3", "#f4e81a"]}, "legend": null}
 }},
{"data": {"name": "b3"}, "transform": [{"filter": "datum.series === 'Experiment'"}], "mark": {"type": "bar", "orient": "vertical", "width": 19, "xOffset": 5, "stroke": "#22326a", "strokeWidth": 1},
 "encoding": {
 "y": {"field": "p", "type": "quantitative", "stack": null, "scale": {"domain": [0, 0.5946], "nice": false, "zero": false}, "axis": {"values": [0, 0.5], "labels": false, "title": null, "tickSize": 6, "tickColor": "#231f20", "tickWidth": 1.2, "domainColor": "#231f20", "domainWidth": 1, "grid": false}},
 "color": {"field": "series", "type": "nominal", "scale": {"domain": ["Experiment", "Theory"], "range": ["#3652a3", "#f4e81a"]}, "legend": null}
 }},
{"data": {"values": [{"x": -0.26}]}, "mark": {"type": "rule", "color": "#231f20", "strokeWidth": 3.5},
 "encoding": {"y": {"datum": 0.52, "type": "quantitative", "scale": {"domain": [0, 0.5946], "nice": false, "zero": false}, "axis": {"values": [0, 0.5], "labels": false, "title": null, "tickSize": 6, "tickColor": "#231f20", "tickWidth": 1.2, "domainColor": "#231f20", "domainWidth": 1, "grid": false}}, "y2": {"datum": 0.5946}}}
]
}
]
}
